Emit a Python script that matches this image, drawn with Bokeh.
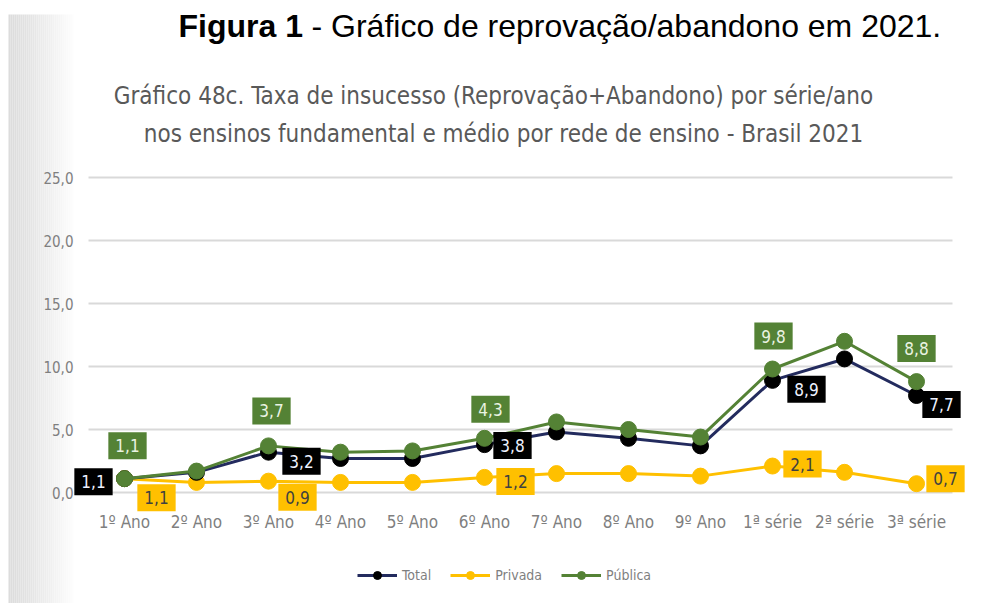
from bokeh.plotting import figure
from bokeh.models import Range1d, FixedTicker, Label, Legend, LegendItem, BoxAnnotation, ColumnDataSource
from bokeh.embed import file_html
from bokeh.resources import INLINE

# ---------------- data ----------------
categories = ["1º Ano", "2º Ano", "3º Ano", "4º Ano", "5º Ano", "6º Ano",
              "7º Ano", "8º Ano", "9º Ano", "1ª série", "2ª série", "3ª série"]
total = [1.1, 1.6, 3.2, 2.7, 2.7, 3.8, 4.8, 4.3, 3.7, 8.9, 10.6, 7.7]
privada = [1.1, 0.8, 0.9, 0.8, 0.8, 1.2, 1.5, 1.5, 1.3, 2.1, 1.6, 0.7]
publica = [1.1, 1.7, 3.7, 3.2, 3.3, 4.3, 5.6, 5.0, 4.4, 9.8, 12.0, 8.8]
labelled = [0, 2, 5, 9, 11]
y_ticks = [0, 5, 10, 15, 20, 25]
y_tick_labels = ["0,0", "5,0", "10,0", "15,0", "20,0", "25,0"]
fig_title_bold = "Figura 1"
fig_title_rest = "- Gráfico de reprovação/abandono em 2021."
chart_title_1 = "Gráfico 48c. Taxa de insucesso (Reprovação+Abandono) por série/ano"
chart_title_2 = "nos ensinos fundamental e médio por rede de ensino - Brasil 2021"

# ---------------- styles / layout ----------------
COND = "DejaVu Sans Condensed"
ARIAL = "Liberation Sans"
C_TOTAL_LINE = "#232b5e"
C_TOTAL_PT = "#000000"
C_PRIV = "#ffc000"
C_PUB = "#548235"
GREY_TXT = "#7f7f7f"

W, H = 1001, 603
PL, PR, PT, PB = 88, 952, 177, 492     # canvas pixels of the plotting area
YMAX = 25.0
n = len(categories)
xpx = (PR - PL) / n          # px per category
ypx = (PB - PT) / YMAX       # px per unit

def cx(px):   # canvas x pixel -> data x
    return -0.5 + (px - PL) / xpx
def cy(py):   # canvas y pixel -> data y
    return (PB - py) / ypx

p = figure(width=W, height=H, output_backend="svg", toolbar_location=None,
           x_range=Range1d(cx(0), cx(W)), y_range=Range1d(cy(H), cy(0)),
           min_border=0)
p.background_fill_color = "white"
p.border_fill_color = "white"
p.outline_line_color = None

# left grey edge of the scanned card (soft gradient)
steps = 34
for k in range(steps):
    g = int(round(0xdc + (0xff - 0xdc) * (k / (steps - 1)) ** 1.2))
    col = "#%02x%02x%02x" % (g, g, g)
    p.add_layout(BoxAnnotation(left=8 + 2 * k, right=10 + 2 * k, top=14, bottom=H,
                               left_units="canvas", right_units="canvas",
                               top_units="canvas", bottom_units="canvas",
                               fill_color=col, fill_alpha=1, line_color=None, level="underlay"))

# axes drawn at fixed positions inside the canvas
p.xaxis.fixed_location = 0
p.yaxis.fixed_location = -0.5
p.yaxis.ticker = FixedTicker(ticks=y_ticks)
p.yaxis.major_label_overrides = dict(zip(y_ticks, y_tick_labels))
p.xaxis.ticker = FixedTicker(ticks=list(range(n)))
p.xaxis.major_label_overrides = {i: c for i, c in enumerate(categories)}
for ax in (p.xaxis, p.yaxis):
    ax.axis_line_color = None
    ax.major_tick_line_color = None
    ax.minor_tick_line_color = None
    ax.major_tick_out = 0
    ax.major_tick_in = 0
    ax.minor_tick_out = 0
    ax.major_label_text_font = COND
    ax.major_label_text_color = GREY_TXT
p.yaxis.major_label_text_font_size = "15px"
p.yaxis.major_label_standoff = 15
p.xaxis.major_label_text_font_size = "17px"
p.xaxis.major_label_standoff = 19

# horizontal grid lines limited to the plotting area
p.xgrid.visible = False
p.ygrid.ticker = FixedTicker(ticks=y_ticks)
p.ygrid.grid_line_color = "#d9d9d9"
p.ygrid.grid_line_width = 2
if "cross_bounds" in p.ygrid[0].properties():
    p.ygrid.cross_bounds = (-0.5, n - 0.5)
else:
    p.ygrid.visible = False
    p.segment(x0=-0.5, x1=n - 0.5, y0=y_ticks, y1=y_ticks, line_color="#d9d9d9", line_width=2)

# series
src = ColumnDataSource(dict(x=list(range(n)), total=total, privada=privada, publica=publica))
p.line("x", "privada", source=src, line_color=C_PRIV, line_width=3)
p.scatter("x", "privada", source=src, size=16, fill_color=C_PRIV, line_color=C_PRIV)
p.line("x", "total", source=src, line_color=C_TOTAL_LINE, line_width=3)
p.scatter("x", "total", source=src, size=16, fill_color=C_TOTAL_PT, line_color=C_TOTAL_PT)
p.line("x", "publica", source=src, line_color=C_PUB, line_width=3)
p.scatter("x", "publica", source=src, size=16, fill_color=C_PUB, line_color=C_PUB)

# data labels
def fmt(v):
    return f"{v:.1f}".replace(".", ",")

off_pub = {0: (3, 33), 2: (3, 35), 5: (6, 29), 9: (1, 33), 11: (0, 33)}
off_tot = {0: (-31, -3), 2: (33, -9), 5: (28, -1), 9: (34, -9), 11: (25, -9)}
off_priv = {0: (32, -19), 2: (29, -16), 5: (31, -4), 9: (30, 2), 11: (29, 5)}

for vals, offs, bg, fg in ((privada, off_priv, C_PRIV, "#404040"),
                           (total, off_tot, "#000000", "#eef2ff"),
                           (publica, off_pub, C_PUB, "#eaf3e2")):
    for i in labelled:
        dx, dy = offs[i]
        p.add_layout(Label(x=i, y=vals[i], x_offset=dx, y_offset=dy, text=fmt(vals[i]),
                           text_align="center", text_baseline="middle",
                           text_font=COND, text_font_size="17px", text_color=fg,
                           background_fill_color=bg, background_fill_alpha=1, padding=7))

# titles
p.add_layout(Label(x=cx(178), y=cy(25), text=fig_title_bold, text_align="left",
                   text_baseline="alphabetic", text_font=ARIAL,
                   text_font_style="bold", text_font_size="32px", text_color="#000000"))
p.add_layout(Label(x=cx(311), y=cy(25), text=fig_title_rest, text_align="left",
                   text_baseline="alphabetic", text_font=ARIAL,
                   text_font_size="32px", text_color="#000000"))
p.add_layout(Label(x=cx(493), y=cy(95), text=chart_title_1, text_align="center",
                   text_baseline="middle", text_font=COND, text_font_size="24px",
                   text_color="#595959"))
p.add_layout(Label(x=cx(503), y=cy(133), text=chart_title_2, text_align="center",
                   text_baseline="middle", text_font=COND, text_font_size="24px",
                   text_color="#595959"))

# legend: hidden proxy renderers with smaller markers
lt = p.line("x", "total", source=src, line_color=C_TOTAL_LINE, line_width=3, visible=False)
st = p.scatter("x", "total", source=src, size=11, fill_color=C_TOTAL_PT, line_color=C_TOTAL_PT, visible=False)
lp = p.line("x", "privada", source=src, line_color=C_PRIV, line_width=3, visible=False)
sp = p.scatter("x", "privada", source=src, size=11, fill_color=C_PRIV, line_color=C_PRIV, visible=False)
lg = p.line("x", "publica", source=src, line_color=C_PUB, line_width=3, visible=False)
sg = p.scatter("x", "publica", source=src, size=11, fill_color=C_PUB, line_color=C_PUB, visible=False)
legend = Legend(items=[LegendItem(label="Total", renderers=[lt, st]),
                       LegendItem(label="Privada", renderers=[lp, sp]),
                       LegendItem(label="Pública", renderers=[lg, sg])],
                orientation="horizontal", location=(357, H - 585),
                glyph_width=40, glyph_height=20, label_standoff=5, spacing=19,
                padding=0, margin=0, border_line_color=None, background_fill_alpha=0,
                inactive_fill_alpha=0,
                label_text_font=COND, label_text_font_size="14px",
                label_text_color=GREY_TXT)
p.add_layout(legend, "center")

open("out.html", "w").write(file_html(p, INLINE))
